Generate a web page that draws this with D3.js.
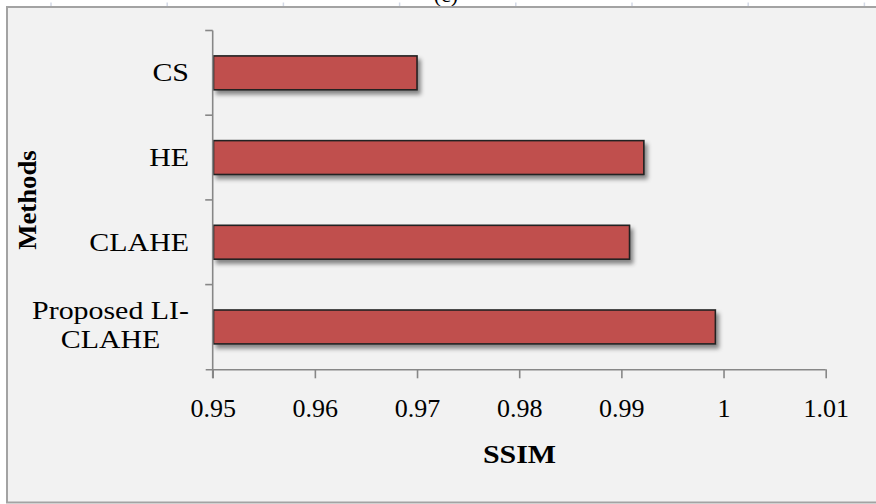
<!DOCTYPE html>
<html>
<head>
<meta charset="utf-8">
<script src="https://cdn.jsdelivr.net/npm/d3@7"></script>
<style>
  html, body { margin: 0; padding: 0; background: #ffffff; }
  svg { display: block; }
  text { font-family: "Liberation Serif", "Times New Roman", serif; fill: #000; }
</style>
</head>
<body>
<svg id="chart" width="876" height="504"></svg>
<script>
// SSIM score of each contrast-enhancement method
const methods = ["CS", "HE", "CLAHE", "Proposed LI-\nCLAHE"];
const ssim = [0.970, 0.9922, 0.9908, 0.9992];
const xTicks = [0.95, 0.96, 0.97, 0.98, 0.99, 1.00, 1.01];
const xTickLabels = ["0.95", "0.96", "0.97", "0.98", "0.99", "1", "1.01"];

const W = 876, H = 504;
const plot = { left: 212.7, right: 825.7, top: 30.5, bottom: 369.3 };
const wide = 1.15; // horizontal stretch for the wider label face

const svg = d3.select("#chart");

// soft shadow under each bar
const defs = svg.append("defs");
const f = defs.append("filter").attr("id", "shadow")
  .attr("x", "-5%").attr("y", "-30%").attr("width", "115%").attr("height", "180%");
f.append("feDropShadow").attr("dx", 3).attr("dy", 4).attr("stdDeviation", 2.2)
  .attr("flood-color", "#000").attr("flood-opacity", 0.45);

// faint tick row of the panel above, peeking in at the top
svg.append("g").selectAll("line")
  .data(d3.range(8))
  .join("line")
  .attr("x1", i => 51 + i * 116.2).attr("x2", i => 51 + i * 116.2)
  .attr("y1", 2.5).attr("y2", 6)
  .attr("stroke", "#d3d9e6").attr("stroke-width", 1.5);

// panel caption, mostly above the page edge
svg.append("text").attr("x", 446).attr("y", 2)
  .attr("text-anchor", "middle").attr("font-size", 22).text("(c)");

// chart frame
svg.append("rect")
  .attr("x", 7).attr("y", 7).attr("width", W + 10).attr("height", H - 8.5)
  .attr("fill", "#f2f2f2").attr("stroke", "#a3a3a3").attr("stroke-width", 2);

const x = d3.scaleLinear().domain([0.95, 1.01]).range([plot.left, plot.right]);
const y = d3.scaleBand().domain(methods).range([plot.top, plot.bottom])
  .paddingInner(0.6).paddingOuter(0.3);

// bars
svg.append("g").selectAll("rect")
  .data(methods.map((m, i) => ({ m, v: ssim[i] })))
  .join("rect")
  .attr("x", x(0.95) + 0.8)
  .attr("y", d => y(d.m))
  .attr("width", d => x(d.v) - x(0.95) - 0.8)
  .attr("height", y.bandwidth())
  .attr("fill", "#c0504d")
  .attr("stroke", "#222")
  .attr("stroke-width", 1.6)
  .attr("filter", "url(#shadow)");

const axisColor = "#878787";

// x axis
const gx = svg.append("g").attr("transform", `translate(0,${plot.bottom})`)
  .call(d3.axisBottom(x).tickValues(xTicks).tickSize(9).tickSizeOuter(0)
    .tickFormat((d, i) => xTickLabels[i]));
gx.select(".domain").attr("stroke", axisColor).attr("stroke-width", 1.6)
  .attr("d", `M${plot.left - 7},0.5H${plot.right}`);
gx.selectAll(".tick line").attr("stroke", axisColor).attr("stroke-width", 1.6);
gx.selectAll(".tick text").attr("font-size", 26).attr("dy", 0).attr("y", 47.7)
  .attr("font-family", "Liberation Serif").attr("fill", "#000");

// y axis: ticks sit on the band boundaries
const gy = svg.append("g").attr("transform", `translate(${plot.left},0)`);
gy.append("line").attr("x1", 0).attr("x2", 0)
  .attr("y1", plot.top).attr("y2", plot.bottom + 9)
  .attr("stroke", axisColor).attr("stroke-width", 1.6);
const step = (plot.bottom - plot.top) / methods.length;
gy.selectAll("line.tk")
  .data(d3.range(methods.length))
  .join("line").attr("class", "tk")
  .attr("x1", -7.5).attr("x2", 0)
  .attr("y1", i => plot.top + i * step).attr("y2", i => plot.top + i * step)
  .attr("stroke", axisColor).attr("stroke-width", 1.6);

// category labels (multi-line labels are centred within a right-aligned block)
const labelRight = 189;
methods.forEach(m => {
  const lines = m.split("\n");
  const cy = y(m) + y.bandwidth() / 2;
  const lh = 29;
  const g = svg.append("g");
  const texts = lines.map((ln, k) => {
    const yy = cy + 8.5 + (k - (lines.length - 1) / 2) * lh - (lines.length > 1 ? 1.5 : 0);
    return g.append("text").attr("font-size", 26).attr("data-y", yy).text(ln);
  });
  const maxW = d3.max(texts, t => t.node().getComputedTextLength()) * wide;
  const cx = labelRight - maxW / 2;
  texts.forEach(t => t.attr("text-anchor", "middle")
    .attr("transform", `translate(${cx},${t.attr("data-y")}) scale(${wide},1)`));
});

// axis titles
svg.append("text")
  .attr("transform", `translate(36,200) rotate(-90) scale(1.07,1)`)
  .attr("text-anchor", "middle").attr("font-size", 25).attr("font-weight", "bold")
  .text("Methods");
svg.append("text")
  .attr("transform", `translate(519.5,463) scale(${wide},1)`)
  .attr("text-anchor", "middle").attr("font-size", 26).attr("font-weight", "bold")
  .text("SSIM");
</script>
</body>
</html>
